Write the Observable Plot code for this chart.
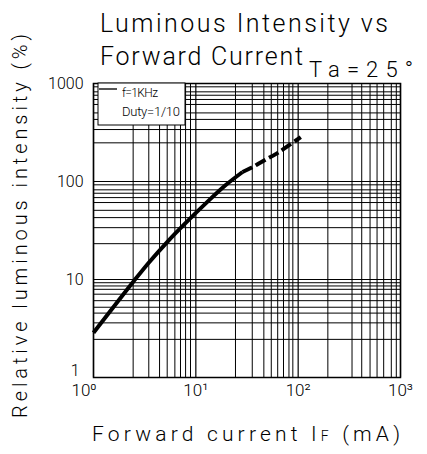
<!DOCTYPE html>
<html><head><meta charset="utf-8">
<script src="https://cdn.jsdelivr.net/npm/d3@7"></script>
<script src="https://cdn.jsdelivr.net/npm/@observablehq/plot@0.6"></script>
<style>
body{margin:0;background:#fff;}
#wrap{position:relative;width:427px;height:454px;overflow:hidden;background:#fff;}
</style></head><body><div id="wrap"></div>
<script>
// Measured curve (solid, continuous drive)
const solidCurrent = [1, 2.47, 3.5, 5.3, 7.7, 12.5, 19.6, 28.6];
const solidIntensity = [2.86, 9.6, 15.0, 24.4, 36.5, 59.8, 91.9, 125];
// Dashed part (pulsed, f=1KHz, Duty=1/10)
const dashCurrent = [28.6, 34.4, 46, 62.7, 106];
const dashIntensity = [125, 137, 163, 195, 284];

// Grid lines as drawn on the original sheet
const xGrid = [2.44, 3.47, 4.42, 5.25, 6.24, 7.08, 7.94, 8.87,
               24.4, 35.6, 46.2, 54.6, 63.1, 71.9, 81.3, 88.7,
               195, 336, 418, 504, 590, 685, 813, 910];
const yGrid = [2.45, 3.61, 4.54, 5.21, 6.08, 7.08, 7.94, 8.59, 9.27,
               23.2, 33.8, 42.8, 50.8, 61.0, 68.5, 75.9, 82.2, 92.5,
               248, 339, 430, 501, 611, 687, 759, 822, 925];
const xTicks = [1, 10, 100, 1000];
const xTickLabels = ["10⁰", "10¹", "10²", "10³"];
const yTicks = [1, 10, 100, 1000];
const yTickLabels = ["1", "10", "100", "1000"];

const solid = solidCurrent.map((c, i) => ({c, v: solidIntensity[i]}));
const dashed = dashCurrent.map((c, i) => ({c, v: dashIntensity[i]}));

const FONT = "Roboto, 'DejaVu Sans', sans-serif";
const xFmt = d => xTickLabels[xTicks.indexOf(d)];
const yFmt = d => yTickLabels[yTicks.indexOf(d)];

const chart = Plot.plot({
  width: 427, height: 454,
  marginLeft: 93, marginRight: 27, marginTop: 83, marginBottom: 77,
  x: {type: "log", domain: [1, 1000]},
  y: {type: "log", domain: [1, 1000]},
  style: {fontFamily: FONT, fontWeight: 300, background: "#fff", color: "#000"},
  marks: [
    Plot.ruleX(xGrid, {stroke: "#000", strokeWidth: 1}),
    Plot.ruleY(yGrid, {stroke: "#000", strokeWidth: 1}),
    Plot.ruleX(xTicks, {stroke: "#000", strokeWidth: 1.2}),
    Plot.ruleY(yTicks, {stroke: "#000", strokeWidth: 1.2}),
    Plot.frame({stroke: "#000", strokeWidth: 1.5}),
    Plot.line(solid, {x: "c", y: "v", stroke: "#000", strokeWidth: 4, curve: "catmull-rom", strokeLinecap: "butt"}),
    Plot.line(dashed, {x: "c", y: "v", stroke: "#000", strokeWidth: 4, curve: "catmull-rom", strokeDasharray: "11,4", strokeLinecap: "butt"}),
    Plot.axisX(xTicks.slice(0, 1), {tickSize: 0, tickPadding: 6, fontSize: 17, label: null, textAnchor: "end", dx: 3, tickFormat: xFmt}),
    Plot.axisX(xTicks.slice(1), {tickSize: 0, tickPadding: 6, fontSize: 17, label: null, tickFormat: xFmt}),
    Plot.axisY(yTicks.slice(0, 1), {tickSize: 0, tickPadding: 14, fontSize: 16, label: null, dy: -7, tickFormat: yFmt}),
    Plot.axisY(yTicks.slice(1), {tickSize: 0, tickPadding: 10, fontSize: 16, label: null, tickFormat: yFmt})
  ]
});
document.getElementById("wrap").appendChild(chart);

const svg = d3.select(chart);
const t = (x, y, str, size, len) => {
  const e = svg.append("text").attr("x", x).attr("y", y)
    .attr("text-anchor", "start")
    .attr("font-family", FONT).attr("font-weight", 300)
    .attr("font-size", size).attr("fill", "#000").text(str);
  if (len) e.attr("textLength", len);
  return e;
};
// Titles
t(100, 32, "Luminous Intensity vs", 25, 288);
t(100, 65, "Forward Current", 25, 203);
t(309, 77, "Ta=25°", 22, 104);
// X label
const xl = svg.append("text").attr("x", 92).attr("y", 441).attr("text-anchor", "start")
  .attr("font-family", FONT).attr("font-weight", 300).attr("font-size", 21)
  .attr("textLength", 308).attr("fill", "#000");
xl.append("tspan").text("Forward current I");
xl.append("tspan").attr("font-size", 14).text("F");
xl.append("tspan").text(" (mA)");
// Y label
svg.append("text").attr("transform", "translate(27,226) rotate(-90)")
  .attr("text-anchor", "middle").attr("font-family", FONT).attr("font-weight", 300)
  .attr("font-size", 20).attr("textLength", 384).attr("fill", "#000")
  .text("Relative luminous intensity (%)");
// Legend box
svg.append("rect").attr("x", 98).attr("y", 83).attr("width", 87).attr("height", 42)
  .attr("fill", "#fff").attr("stroke", "#000").attr("stroke-width", 1);
svg.append("line").attr("x1", 99).attr("x2", 117).attr("y1", 89).attr("y2", 89)
  .attr("stroke", "#555").attr("stroke-width", 2);
t(122, 97, "f=1KHz", 12, 36);
t(122, 116, "Duty=1/10", 13, 58);
</script></body></html>
